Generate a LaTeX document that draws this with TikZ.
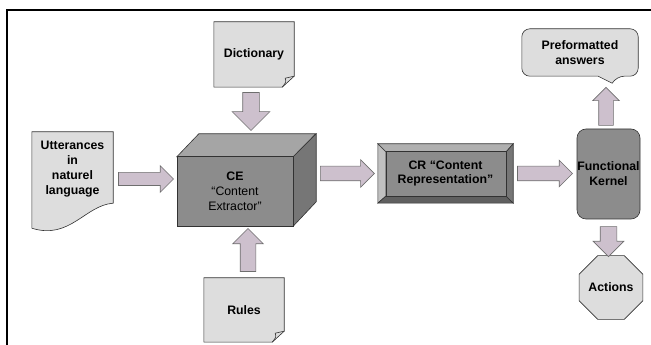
\documentclass[tikz,border=0pt]{standalone}
\usepackage{fontspec}
\setmainfont{Liberation Sans}
\usetikzlibrary{shapes.geometric,shapes.arrows,calc}
\pgfdeclarelayer{bg}
\pgfsetlayers{bg,main}
\definecolor{edge}{RGB}{50,50,50}
\definecolor{docgray}{RGB}{221,221,221}
\definecolor{boxgray}{RGB}{140,140,140}
\definecolor{cetop}{RGB}{165,165,165}
\definecolor{ceside}{RGB}{118,118,118}
\definecolor{crtop}{RGB}{176,176,176}
\definecolor{crleft}{RGB}{192,192,192}
\definecolor{crbottom}{RGB}{96,96,96}
\definecolor{crright}{RGB}{118,118,118}
\definecolor{arrowfill}{RGB}{205,192,205}
\definecolor{arrowline}{RGB}{110,110,110}

\begin{document}
\begin{tikzpicture}[x=1pt,y=1pt]
      \tikzstyle{lbl}=[font=\fontsize{12.3}{15}\selectfont\bfseries,align=center,inner sep=0pt]
      \tikzstyle{doc}=[lbl,minimum width=80pt,minimum height=65pt]
      \tikzstyle{shade}=[draw=edge,line width=0.6pt]
      \tikzstyle{fat}=[single arrow,draw=arrowline,fill=arrowfill,line width=0.6pt,inner sep=0pt,single arrow head indent=0pt]

      \useasboundingbox (0,0) rectangle (651,345);
      \draw[line width=2pt] (7,0) -- (7,335) -- (651,335);

      \node[doc,minimum width=81pt,minimum height=98pt](ut) at (72.5,164){};
      \node[lbl](ut-text) at ([yshift=11.5pt]ut.center){Utterances\\in\\naturel\\language};
      \node[doc](dict) at (254,290.5){Dictionary};
      \node[doc,minimum height=64pt](rules) at (244,35){Rules};
      \node[lbl,font=\fontsize{12.3}{15}\selectfont,minimum width=116pt,minimum height=69pt](ce) at (235,153.5)
        {\textbf{CE}\\“Content\\Extractor”};
      \node[lbl,font=\fontsize{12.3}{14}\selectfont\bfseries,minimum width=135pt,minimum height=59pt](cr) at (445.5,171.5)
        {CR “Content\\Representation”};
      \node[lbl,shade,fill=boxgray,rounded corners=9pt,minimum width=63pt,minimum height=90pt](fk) at (608.5,171)
        {Functional\\Kernel};
      \node[lbl,minimum width=116pt,minimum height=47pt](pre) at (580,292.5){Preformatted\\answers};
      \node[lbl,shade,fill=docgray,regular polygon,regular polygon sides=8,minimum size=66pt](act) at (611,57.5){Actions};

      \node[fat,minimum height=55pt,inner ysep=6.25pt,single arrow head extend=6.75pt,anchor=tail]
        (ut-ce) at ([xshift=5pt,yshift=2pt]ut.east){};
      \node[fat,minimum height=54pt,inner ysep=7pt,single arrow head extend=6.5pt,anchor=tip]
        (ce-cr) at ([xshift=-3pt]cr.west){};
      \node[fat,minimum height=55pt,inner ysep=7pt,single arrow head extend=6pt,anchor=tail]
        (cr-fk) at ([xshift=4pt]cr.east){};
      \node[fat,shape border rotate=270,minimum height=38pt,inner xsep=8pt,single arrow head extend=10.5pt,anchor=tail]
        (dict-ce) at ([xshift=-3pt,yshift=-5pt]dict.south){};
      \node[fat,shape border rotate=90,minimum height=43pt,inner xsep=7.5pt,single arrow head extend=7.5pt,anchor=tail]
        (rules-ce) at ([xshift=4pt,yshift=6pt]rules.north){};
      \node[fat,shape border rotate=90,minimum height=38pt,inner xsep=7pt,single arrow head extend=6pt,anchor=tail]
        (fk-pre) at ([xshift=-2.5pt,yshift=3pt]fk.north){};
      \node[fat,shape border rotate=270,minimum height=30pt,inner xsep=8pt,single arrow head extend=7pt,anchor=tail]
        (fk-act) at ([yshift=-7pt]fk.south){};

      \begin{pgfonlayer}{bg}
        \filldraw[shade,fill=docgray] ($(ut.south west)+(0,2)$) -- (ut.north west) -- (ut.north east)
          -- ($(ut.south east)+(0,27)$) .. controls ($(ut.south east)+(-28,25)$) and ($(ut.south west)+(38,-10)$)
          .. ($(ut.south west)+(0,2)$) -- cycle;

        \foreach \n in {dict,rules} {
          \filldraw[shade,fill=docgray] (\n.south west) -- (\n.north west) -- (\n.north east)
            -- ($(\n.south east)+(0,11)$) -- ($(\n.south east)+(-12,0)$) -- cycle;
          \draw[shade] ($(\n.south east)+(-12,0)$) .. controls ($(\n.south east)+(-8,5)$) .. ($(\n.south east)+(-9,9)$)
            -- ($(\n.south east)+(0,11)$);
        }

        \filldraw[shade,fill=cetop] (ce.north west) -- ++(22,23) -- ++(117,0) -- (ce.north east) -- cycle;
        \filldraw[shade,fill=ceside] (ce.north east) -- ++(23,23) -- ++(0,-68) -- (ce.south east) -- cycle;
        \filldraw[shade,fill=boxgray] (ce.south west) rectangle (ce.north east);

        \coordinate (cr-nw) at ($(cr.north west)+(8,-8)$);
        \coordinate (cr-ne) at ($(cr.north east)+(-7,-8)$);
        \coordinate (cr-se) at ($(cr.south east)+(-7,7)$);
        \coordinate (cr-sw) at ($(cr.south west)+(8,7)$);
        \filldraw[shade,fill=crtop] (cr.north west) -- (cr.north east) -- (cr-ne) -- (cr-nw) -- cycle;
        \filldraw[shade,fill=crleft] (cr.north west) -- (cr-nw) -- (cr-sw) -- (cr.south west) -- cycle;
        \filldraw[shade,fill=crbottom] (cr.south west) -- (cr-sw) -- (cr-se) -- (cr.south east) -- cycle;
        \filldraw[shade,fill=crright] (cr.south east) -- (cr-se) -- (cr-ne) -- (cr.north east) -- cycle;
        \filldraw[shade,fill=boxgray] (cr-sw) rectangle (cr-ne);

        \filldraw[shade,fill=docgray,rounded corners=8pt] (pre.west) -- (pre.north west) -- (pre.north east)
          -- (pre.south east) -- ([xshift=-22pt]pre.south east) [sharp corners]
          -- ([xshift=-26pt,yshift=-7pt]pre.south east) -- ([xshift=-40pt]pre.south east) [rounded corners=8pt]
          -- (pre.south west) -- cycle;
      \end{pgfonlayer}
    \end{tikzpicture}
\end{document}
